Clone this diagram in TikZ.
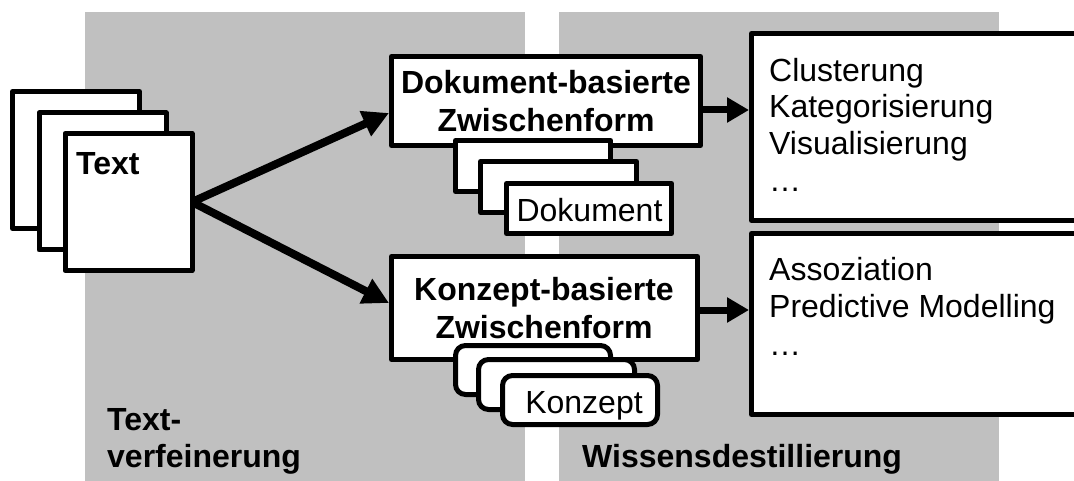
\documentclass[tikz,border=0pt]{standalone}
\usepackage{fontspec}
\setmainfont{Liberation Sans}
\usetikzlibrary{arrows.meta}
\definecolor{panelgray}{RGB}{192,192,192}
\begin{document}
\begin{tikzpicture}[x=1pt,y=-1pt,
  panel/.style={fill=panelgray,draw=none},
  sheet/.style={draw=black,fill=white,line width=5pt,line join=round,inner sep=0pt,outer sep=0pt,minimum width=127pt,minimum height=137pt},
  box/.style={draw=black,fill=white,line width=5pt,line join=round,inner sep=0pt,outer sep=2.5pt},
  rbox/.style={box,rounded corners=10pt},
  bigarrow/.style={line width=8pt,-{Triangle[length=26pt,width=26pt]}},
  smallarrow/.style={line width=7pt,-{Triangle[length=22pt,width=24pt]}},
  lbl/.style={inner sep=0pt,font=\fontsize{32}{37}\selectfont},
  blbl/.style={lbl,font=\fontsize{32}{37}\selectfont\bfseries}]
\useasboundingbox (0,0) rectangle (1074,481);
\clip (0,0) rectangle (1074,481);

% background phases
\fill[panel] (85,12) rectangle (525,481);
\fill[panel] (559,12) rectangle (999,481);

% stack of text sheets
\node[sheet] (page1) at (76,160) {};
\node[sheet] (page2) at (102.5,181.5) {};
\node[sheet] (page3) at (128.5,202) {};

% intermediate forms
\node[box,minimum width=309pt,minimum height=89pt] (dok) at (546,101) {};
\node[box,minimum width=155pt,minimum height=51pt] (ds1) at (533,166) {};
\node[box,minimum width=156pt,minimum height=51pt] (ds2) at (558.5,187) {};
\node[box,minimum width=165pt,minimum height=50pt] (ds3) at (589,208.5) {};

\node[box,minimum width=306pt,minimum height=103pt] (kon) at (544.5,308) {};
\node[rbox,minimum width=155pt,minimum height=49pt] (ks1) at (533,370) {};
\node[rbox,minimum width=156pt,minimum height=50pt] (ks2) at (556.5,384.5) {};
\node[rbox,minimum width=155pt,minimum height=49pt] (ks3) at (580,400) {};

% result boxes
\node[box,minimum width=400pt,minimum height=187pt] (res1) at (951.5,127) {};
\node[box,minimum width=400pt,minimum height=181pt] (res2) at (951.5,324) {};

% connectors
\draw[bigarrow] (page3.east) -- ([yshift=-12pt]dok.west);
\draw[bigarrow] (page3.east) -- ([yshift=5pt]kon.west);
\path ([yshift=-9pt]dok.east) coordinate (dout);
\path ([yshift=-2pt]kon.east) coordinate (kout);
\draw[smallarrow] (dout) -- (dout -| res1.west);
\draw[smallarrow] (kout) -- (kout -| res2.west);

% labels
\node[blbl,anchor=base west] (ttext) at (76,175) {Text};
\node[blbl,anchor=base] (dok1) at (546,94) {Dokument-basierte};
\node[blbl,anchor=base] (dok2) at (546,132) {Zwischenform};
\node[lbl,anchor=base] (dsl) at (589.5,222) {Dokument};
\node[blbl,anchor=base] (kon1) at (544,301) {Konzept-basierte};
\node[blbl,anchor=base] (kon2) at (544,338) {Zwischenform};
\node[lbl,anchor=base] (ksl) at (584,413) {Konzept};

\node[lbl,anchor=base west] (r11) at (769,82) {Clusterung};
\node[lbl,anchor=base west] (r12) at (769,118) {Kategorisierung};
\node[lbl,anchor=base west] (r13) at (769,155) {Visualisierung};
\node[lbl,anchor=base west] (r14) at (769,192) {…};
\node[lbl,anchor=base west] (r21) at (769,280) {Assoziation};
\node[lbl,anchor=base west] (r22) at (769,317) {Predictive Modelling};
\node[lbl,anchor=base west] (r23) at (769,355) {…};

\node[blbl,anchor=base west] (ph1a) at (107,430) {Text-};
\node[blbl,anchor=base west] (ph1b) at (107,467) {verfeinerung};
\node[blbl,anchor=base west] (ph2) at (582,467) {Wissensdestillierung};
\end{tikzpicture}
\end{document}
